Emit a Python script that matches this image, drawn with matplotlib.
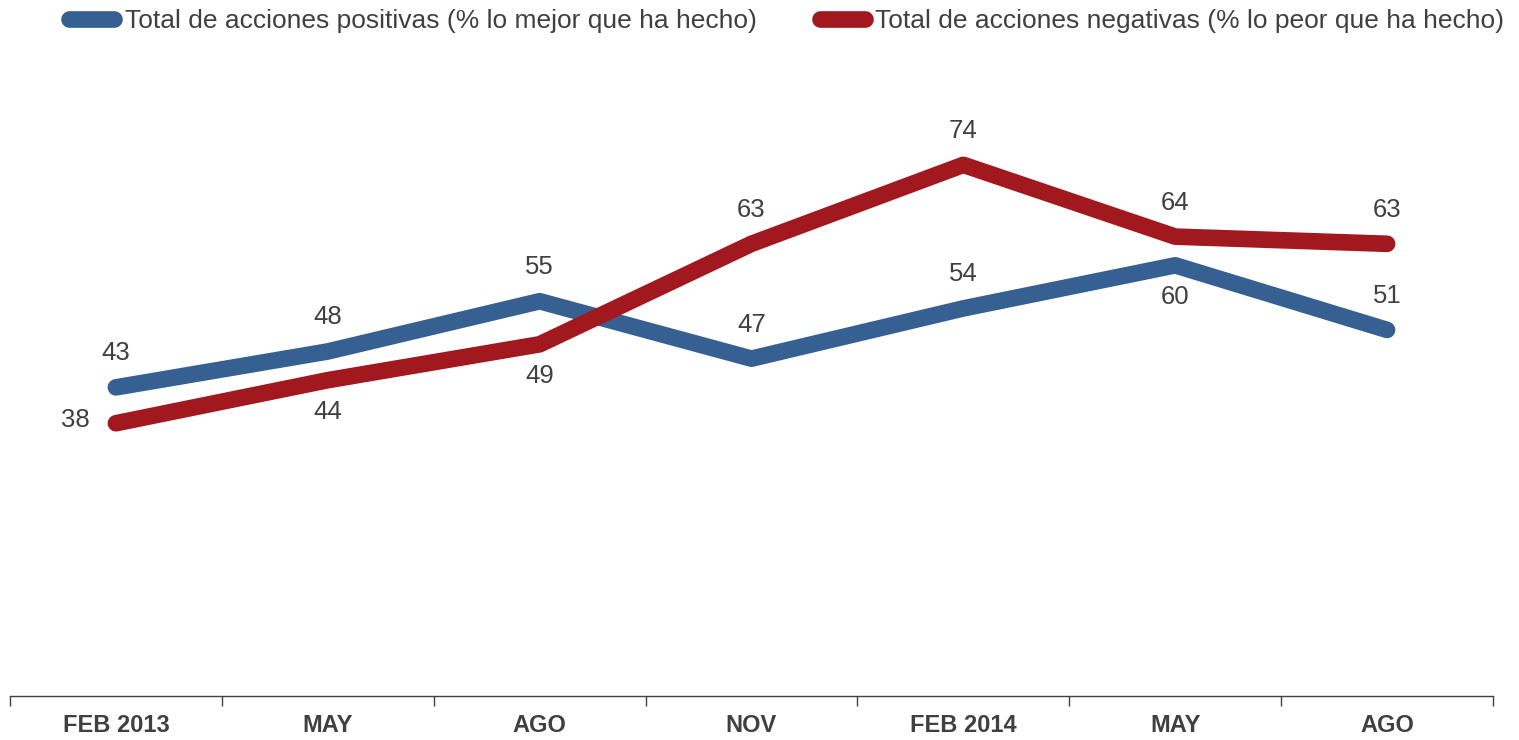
import matplotlib.pyplot as plt
import numpy as np

plt.rcParams['font.family'] = ['Liberation Sans', 'DejaVu Sans']

categories = ['FEB 2013', 'MAY', 'AGO', 'NOV', 'FEB 2014', 'MAY', 'AGO']
positivas = [43, 48, 55, 47, 54, 60, 51]
negativas = [38, 44, 49, 63, 74, 64, 63]

# label placement: +1 above, -1 below, 0 left
pos_side = [1, 1, 1, 1, 1, -1, 1]
neg_side = [0, -1, -1, 1, 1, 1, 1]

blue = '#366092'
red = '#A2181F'
txt = '#404040'

fig = plt.figure(figsize=(15.19, 7.40), dpi=100)
ax = fig.add_axes([10 / 1519, 1 - 696 / 740, 1483 / 1519, 646 / 740])

x = np.arange(len(categories))
ax.plot(x, positivas, color=blue, lw=12, solid_capstyle='round', solid_joinstyle='round',
        label='Total de acciones positivas (% lo mejor que ha hecho)')
ax.plot(x, negativas, color=red, lw=12, solid_capstyle='round', solid_joinstyle='round',
        label='Total de acciones negativas (% lo peor que ha hecho)')

def put_labels(vals, sides):
    for i, (v, s) in enumerate(zip(vals, sides)):
        if s == 1:
            off, ha = (0, 24.5), 'center'
        elif s == -1:
            off, ha = (0, -23), 'center'
        else:
            off, ha = (-29, 2), 'center'
        ax.annotate(str(v), (i, v), xytext=off, textcoords='offset points',
                    ha=ha, va='center', fontsize=18.5, color=txt)

put_labels(positivas, pos_side)
put_labels(negativas, neg_side)

ax.set_xlim(-0.5, len(categories) - 0.5)
ax.set_ylim(0, 90)
ax.set_xticks(x)
ax.set_xticklabels(categories, fontsize=17, fontweight='bold', color=txt)
ax.set_xticks(np.arange(-0.5, len(categories)), minor=True)
ax.tick_params(axis='x', which='major', length=0, pad=13)
ax.tick_params(axis='x', which='minor', length=7, color='#404040', width=1)
ax.set_yticks([])
for s in ['top', 'right', 'left']:
    ax.spines[s].set_visible(False)
ax.spines['bottom'].set_color('#404040')
ax.spines['bottom'].set_linewidth(1)

fig.legend(loc='upper center', bbox_to_anchor=(0.518, 1.02), ncol=2, frameon=False,
           fontsize=19, handlelength=1.7, handletextpad=0.4, columnspacing=2.4,
           labelcolor=txt)

fig.savefig('out.png', dpi=100)
